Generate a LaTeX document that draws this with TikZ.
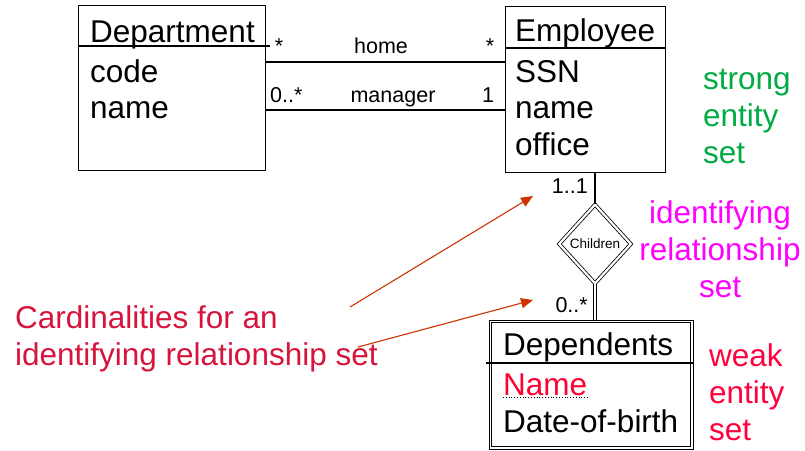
\documentclass[tikz,border=0pt]{standalone}
\usepackage{fontspec}
\setmainfont{Liberation Sans}
\usetikzlibrary{positioning,shapes.geometric,arrows.meta}
\definecolor{strongcol}{RGB}{0,170,68}
\definecolor{identcol}{RGB}{255,0,255}
\definecolor{weakcol}{RGB}{255,0,60}
\definecolor{cardcol}{RGB}{214,20,60}
\definecolor{arrowcol}{RGB}{204,51,0}
\definecolor{keycol}{RGB}{255,0,51}

\begin{document}
\begin{tikzpicture}[x=1pt, y=-1pt,
entity/.style={draw, line width=1.1pt, inner sep=0pt, anchor=north west},
weakline/.style={draw=black, double=white, double distance=2.2pt, line width=0.8pt},
attr/.style={anchor=base west, inner sep=0pt, font=\fontsize{31.5}{37}\selectfont},
mult/.style={anchor=base, inner sep=0pt, font=\fontsize{21.5}{25}\selectfont},
note/.style={anchor=base west, align=left, inner sep=0pt, font=\fontsize{31.5}{37}\selectfont},
pointer/.style={draw=arrowcol, line width=1.1pt, -{Triangle[length=12pt,width=10pt]}}]

\useasboundingbox (0,0) rectangle (805,450);

% entity boxes
\node[entity, minimum width=187pt, minimum height=165pt] (dept) at (78,5) {};
\node[entity, minimum width=160pt, minimum height=166pt] (emp) at (505,6) {};
\node[entity, line width=0.9pt, minimum width=204pt, minimum height=129pt] (dep) at (488.5,319.5) {};
\draw[line width=0.9pt] ([shift={(3.2,3.2)}]dep.north west) rectangle ([shift={(-3.2,-3.2)}]dep.south east);
\node[diamond, weakline, minimum width=72pt, minimum height=79pt, inner sep=0pt, font=\fontsize{13.5}{16}\selectfont] (rel) at (595,244) {Children};

\draw[line width=1.1pt] (dept.north west) ++(0,41) -- ++(192,0);
\draw[line width=1.1pt] (emp.north west) ++(0,42) -- ++(160,0);
\draw[line width=1.1pt] (dep.north west) ++(-2.5,43.5) -- ++(207,0);

% attributes
\node[attr] (deptT) at (90,42) {Department};
\node[attr] (deptA) at (90,82) {code};
\node[attr] (deptB) at (90,118) {name};
\node[attr] (empT) at (515,41) {Employee};
\node[attr] (empA) at (515,82) {SSN};
\node[attr] (empB) at (515,118) {name};
\node[attr] (empC) at (515,155) {office};
\node[attr] (depT) at (503,355) {Dependents};
\node[attr, text=keycol] (depA) at (503,395) {Name};
\node[attr] (depB) at (503,432) {Date-of-birth};
\draw[dotted, line width=0.8pt] ([yshift=-2pt]depA.base west) -- ([yshift=-2pt]depA.base east);

% relationships
\coordinate (home) at ([yshift=-57pt]dept.north east);
\coordinate (mgr) at ([yshift=-105pt]dept.north east);
\draw[line width=1.1pt] (home) -- (home -| emp.west);
\draw[line width=1.1pt] (mgr) -- (mgr -| emp.west);
\draw[line width=1.1pt] (emp.south -| rel.north) -- (rel.north);
\draw[weakline, double distance=2pt] (rel.south) -- (rel.south |- dep.north);

\node[mult] (m1) at (279,53) {*};
\node[mult] (m2) at (381,53) {home};
\node[mult] (m3) at (490,53) {*};
\node[mult, anchor=base west] (m4) at (270,102) {0..*};
\node[mult] (m5) at (393,102) {manager};
\node[mult] (m6) at (488,102) {1};
\node[mult, anchor=base east] (m7) at (588,193) {1..1};
\node[mult, anchor=base east] (m8) at (588,312) {0..*};

% remarks
\node[note, text=cardcol] (card) at (15,365) {Cardinalities for an\\identifying relationship set};
\node[note, text=strongcol] (strong) at (703,163) {strong\\entity\\set};
\node[note, text=identcol, align=center, anchor=base] (ident) at (720,297) {identifying\\relationship\\set};
\node[note, text=weakcol] (weak) at (709,440) {weak\\entity\\set};

\coordinate (p1) at (350,307);
\coordinate (q1) at (533,196);
\coordinate (p2) at (358,347);
\coordinate (q2) at (533,300);
\draw[pointer] (p1) -- (q1);
\draw[pointer] (p2) -- (q2);

\end{tikzpicture}
\end{document}
